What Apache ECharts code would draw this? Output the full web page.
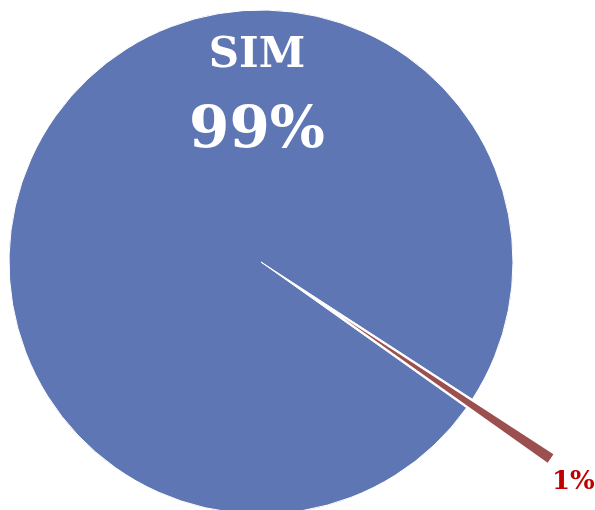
<!DOCTYPE html>
<html><head><meta charset="utf-8">
<script src="https://cdn.jsdelivr.net/npm/echarts@6/dist/echarts.min.js"></script>
<style>html,body{margin:0;padding:0;background:#fff}#c{width:595px;height:510px}</style>
</head><body><div id="c"></div>
<script>
const categories = ['SIM', 'NÃO'];
const values = [99.35, 0.65];
const colors = ['#5F76B4', '#9B4F4F'];

const total = values.reduce((a, b) => a + b, 0);
const pctText = values.map(v => Math.round(v / total * 100) + '%');

const chart = echarts.init(document.getElementById('c'), null, {renderer: 'canvas'});
const data = categories.map((n, i) => ({
  name: n,
  value: values[i],
  selected: i === 1,
  itemStyle: {color: colors[i], borderColor: '#fff', borderWidth: i === 0 ? 1 : 0},
  select: {itemStyle: {color: colors[i], borderColor: '#fff', borderWidth: i === 0 ? 1 : 0}},
  label: i === 0 ? {
    show: true,
    formatter: p => '{a|' + p.name + '}\n{b|' + pctText[0] + '}',
    rich: {
      a: {fontFamily: 'DejaVu Serif', fontWeight: 'bold', fontSize: 42, color: '#fff', lineHeight: 76, align: 'center'},
      b: {fontFamily: 'DejaVu Serif', fontWeight: 'bold', fontSize: 58, color: '#fff', lineHeight: 76, align: 'center'}
    }
  } : {show: false}
}));
chart.setOption({
  animation: false,
  graphic: [{
    type: 'text', left: 552, top: 469, z: 10,
    style: {text: pctText[1], fill: '#C00000', font: 'bold 26px "DejaVu Serif"'}
  }],
  series: [{
    type: 'pie',
    center: [261, 262],
    radius: [0, 252],
    startAngle: -33.0,
    clockwise: true,
    selectedMode: 'single',
    selectedOffset: 98,
    avoidLabelOverlap: false,
    labelLine: {show: false},
    emphasis: {disabled: true},
    data: [data[1], data[0]],
    labelLayout: function (p) {
      if (p.dataIndex === 1) return {x: 257, y: 94, align: 'center', verticalAlign: 'middle'};
      return {};
    }
  }]
});
</script></body></html>
